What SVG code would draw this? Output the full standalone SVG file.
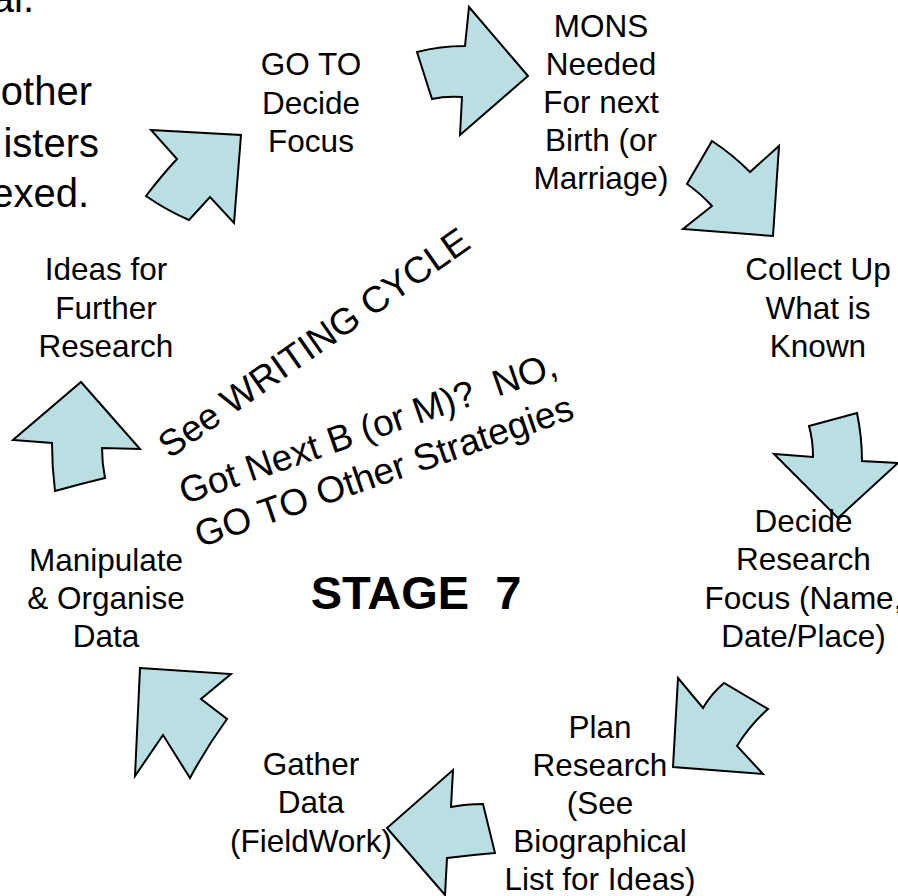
<svg xmlns="http://www.w3.org/2000/svg" width="898" height="896" viewBox="0 0 898 896">
<style>
.arrow{fill:#B9DFE2;stroke:#000;stroke-width:2;stroke-linejoin:miter}
.lbl{font-family:"Liberation Sans",Arial,sans-serif;font-size:31.5px;fill:#000;text-anchor:middle}
.big{font-family:"Liberation Sans",Arial,sans-serif;font-size:40px;fill:#000;text-anchor:end}
.rot{font-family:"Liberation Sans",Arial,sans-serif;font-size:37px;fill:#000;text-anchor:middle;white-space:pre}
.stage{font-family:"Liberation Sans",Arial,sans-serif;font-size:47px;font-weight:bold;fill:#000;text-anchor:middle;white-space:pre}
</style>
<rect width="898" height="896" fill="#fff"/>
<g id="intro-text">
<text class="big" x="34" y="12">al.</text>
<text class="big" x="92" y="105">other</text>
<text class="big" x="99" y="157">isters</text>
<text class="big" x="89" y="207">exed.</text>
</g>
<g id="connectors">
<path id="arrow1" class="arrow" d="M151,130 L241,135 L234,223 L210,197 L189,220 Q166,210 146,196 Q162,175 177,159 Z"/>
<path id="arrow2" class="arrow" d="M417,52 Q440,46 465,46 L469,7 L528,76 L460,135 L462,97 Q445,96 432,99 Z"/>
<path id="arrow3" class="arrow" d="M712,141 Q732,154 750,172 L779,146 L773,236 L683,229 L712,206 Q700,193 687,184 Z"/>
<path id="arrow4" class="arrow" d="M809,426 L857,413 Q862,437 862,461 L898,463 L838,518 L774,454 L813,457 Q813,440 809,426 Z"/>
<path id="arrow5" class="arrow" d="M678,678 L703,708 Q711,694 724,683 L768,709 Q750,725 737,746 L763,774 L673,767 Z"/>
<path id="arrow6" class="arrow" d="M453,770 L451,807 Q466,804 483,804 L495,853 Q471,855 447,858 L445,895 L387,828 Z"/>
<path id="arrow7" class="arrow" d="M140,668 L231,674 L201,699 L227,719 Q206,748 190,778 L163,735 L135,776 Z"/>
<path id="arrow8" class="arrow" d="M81,382 L140,449 L102,448 Q102,463 105,478 Q80,484 55,491 Q52,467 52,443 L13,440 Z"/>
</g>
<g id="node-goto">
<text class="lbl" x="311" y="75">GO TO</text>
<text class="lbl" x="311" y="113.5">Decide</text>
<text class="lbl" x="311" y="152">Focus</text>
</g>
<g id="node-mons">
<text class="lbl" x="601" y="36.5">MONS</text>
<text class="lbl" x="601" y="74.5">Needed</text>
<text class="lbl" x="601" y="112.5">For next</text>
<text class="lbl" x="601" y="150.5">Birth (or</text>
<text class="lbl" x="601" y="188.5">Marriage)</text>
</g>
<g id="node-collect">
<text class="lbl" x="818" y="280">Collect Up</text>
<text class="lbl" x="818" y="318.5">What is</text>
<text class="lbl" x="818" y="357">Known</text>
</g>
<g id="node-decide">
<text class="lbl" x="803.5" y="532">Decide</text>
<text class="lbl" x="803.5" y="570">Research</text>
<text class="lbl" x="803.5" y="608.5">Focus (Name,</text>
<text class="lbl" x="803.5" y="647">Date/Place)</text>
</g>
<g id="node-plan">
<text class="lbl" x="600" y="738">Plan</text>
<text class="lbl" x="600" y="776">Research</text>
<text class="lbl" x="600" y="814">(See</text>
<text class="lbl" x="600" y="852">Biographical</text>
<text class="lbl" x="600" y="890">List for Ideas)</text>
</g>
<g id="node-gather">
<text class="lbl" x="311" y="775">Gather</text>
<text class="lbl" x="311" y="813">Data</text>
<text class="lbl" x="311" y="852">(FieldWork)</text>
</g>
<g id="node-manipulate">
<text class="lbl" x="106" y="571">Manipulate</text>
<text class="lbl" x="106" y="609">&amp; Organise</text>
<text class="lbl" x="106" y="647">Data</text>
</g>
<g id="node-ideas">
<text class="lbl" x="106" y="280">Ideas for</text>
<text class="lbl" x="106" y="318.5">Further</text>
<text class="lbl" x="106" y="357">Research</text>
</g>
<g id="center-text">
<text class="rot" transform="translate(321,353) rotate(-35)">See WRITING CYCLE</text>
<text class="rot" transform="translate(372,440) rotate(-19)">Got Next B (or M)?  NO,</text>
<text class="rot" transform="translate(388,483) rotate(-19)">GO TO Other Strategies</text>
<text class="stage" x="416" y="609">STAGE  7</text>
</g>
</svg>
